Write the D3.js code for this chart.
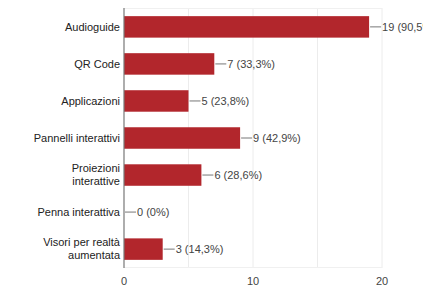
<!DOCTYPE html>
<html>
<head>
<meta charset="utf-8">
<script src="https://d3js.org/d3.v7.min.js"></script>
<style>
  body { margin: 0; background: #fff; }
  text { font-family: "Liberation Sans", Arial, sans-serif; }
</style>
</head>
<body>
<div id="chart"></div>
<script>
// Chart data
const categories = [
  ["Audioguide"],
  ["QR Code"],
  ["Applicazioni"],
  ["Pannelli interattivi"],
  ["Proiezioni", "interattive"],
  ["Penna interattiva"],
  ["Visori per realtà", "aumentata"]
];
const counts = [19, 7, 5, 9, 6, 0, 3];
const percents = ["90,5%", "33,3%", "23,8%", "42,9%", "28,6%", "0%", "14,3%"];
const xTicks = [0, 10, 20];
const gridTicks = [5, 10, 15, 20];

const width = 423, height = 287;
const margin = { top: 8, right: 41, bottom: 19, left: 124 };

const svg = d3.select("#chart")
  .append("svg")
  .attr("width", width)
  .attr("height", height);

const x = d3.scaleLinear()
  .domain([0, 20])
  .range([margin.left, width - margin.right]);

const y = d3.scaleBand()
  .domain(d3.range(categories.length))
  .range([margin.top, height - margin.bottom])
  .paddingInner(0.42)
  .paddingOuter(0.22);

// Grid lines
svg.append("g")
  .selectAll("line")
  .data(gridTicks)
  .enter()
  .append("line")
  .attr("x1", d => x(d))
  .attr("x2", d => x(d))
  .attr("y1", margin.top)
  .attr("y2", height - margin.bottom)
  .attr("stroke", "#ececec")
  .attr("stroke-width", 1);

// top and bottom border of plot area
[margin.top + 0.5, height - margin.bottom - 0.5].forEach(yy => {
  svg.append("line")
    .attr("x1", margin.left)
    .attr("x2", x(20))
    .attr("y1", yy)
    .attr("y2", yy)
    .attr("stroke", "#f0f0f0");
});

// Bars
svg.append("g")
  .selectAll("rect")
  .data(counts)
  .enter()
  .append("rect")
  .attr("x", x(0))
  .attr("y", (d, i) => y(i))
  .attr("width", d => x(d) - x(0))
  .attr("height", y.bandwidth())
  .attr("fill", "#b2262c");

// Leader lines and value labels
const valueGroup = svg.append("g");
counts.forEach((d, i) => {
  const cy = y(i) + y.bandwidth() / 2;
  const xEnd = x(d);
  valueGroup.append("line")
    .attr("x1", xEnd + 1)
    .attr("x2", xEnd + 12)
    .attr("y1", cy)
    .attr("y2", cy)
    .attr("stroke", "#777")
    .attr("stroke-width", 1);
  valueGroup.append("text")
    .attr("x", xEnd + 13)
    .attr("y", cy)
    .attr("dy", "0.35em")
    .attr("font-size", "11px")
    .attr("fill", "#444")
    .text(`${d} (${percents[i]})`);
});

// Vertical axis line
svg.append("line")
  .attr("x1", x(0))
  .attr("x2", x(0))
  .attr("y1", margin.top)
  .attr("y2", height - margin.bottom)
  .attr("stroke", "#777")
  .attr("stroke-width", 1.2);

// Category labels
const catGroup = svg.append("g");
categories.forEach((lines, i) => {
  const cy = y(i) + y.bandwidth() / 2;
  const lh = 13;
  const t = catGroup.append("text")
    .attr("x", x(0) - 4)
    .attr("text-anchor", "end")
    .attr("font-size", "11px")
    .attr("fill", "#222");
  lines.forEach((line, j) => {
    t.append("tspan")
      .attr("x", x(0) - 4)
      .attr("y", cy + (j - (lines.length - 1) / 2) * lh)
      .attr("dy", "0.35em")
      .text(line);
  });
});

// X tick labels
svg.append("g")
  .selectAll("text")
  .data(xTicks)
  .enter()
  .append("text")
  .attr("x", d => x(d))
  .attr("y", height - 2)
  .attr("text-anchor", "middle")
  .attr("font-size", "11px")
  .attr("fill", "#444")
  .text(d => d);
</script>
</body>
</html>
